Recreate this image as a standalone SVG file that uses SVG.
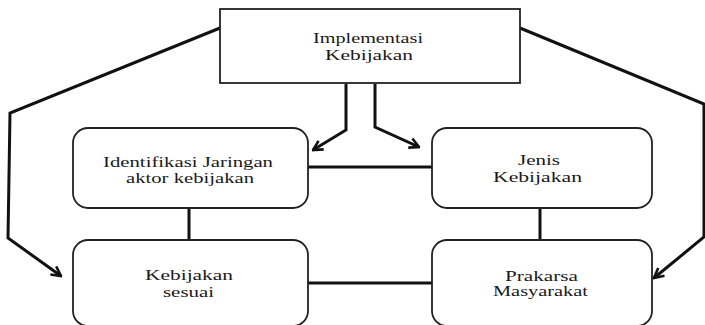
<svg xmlns="http://www.w3.org/2000/svg" width="705" height="325" viewBox="0 0 705 325">
  <style>
    .box { fill: #ffffff; stroke: #222222; stroke-width: 1.8; }
    .lbl { font-family: "Liberation Serif", "Times New Roman", serif; font-size: 14px; fill: #1a1a1a; text-anchor: middle; }
    .link { fill: none; stroke: #111111; stroke-width: 3; }
    .arrow { fill: none; stroke: #111111; stroke-width: 3; stroke-linejoin: miter; marker-end: url(#head); }
  </style>
  <defs>
    <marker id="head" viewBox="0 0 12 12" refX="10.5" refY="6" markerWidth="12" markerHeight="12" markerUnits="userSpaceOnUse" orient="auto">
      <path d="M1,1 L10.5,6 L1,11" fill="none" stroke="#111111" stroke-width="2.6"/>
    </marker>
  </defs>

  <rect width="705" height="325" fill="#ffffff"/>

  <!-- connectors -->
  <g id="connectors">
    <polyline class="arrow" points="346,84 346,130 313,150"/>
    <polyline class="arrow" points="375,84 375,127 419,147"/>
    <polyline class="arrow" points="220,28 10,113 8,238 61,276"/>
    <polyline class="arrow" points="520,28 704,104 704,237 654,278"/>
    <line class="link" x1="308" y1="167" x2="432" y2="167"/>
    <line class="link" x1="308" y1="283" x2="432" y2="283"/>
    <line class="link" x1="189" y1="208" x2="189" y2="240"/>
    <line class="link" x1="540" y1="208" x2="540" y2="240"/>
  </g>

  <!-- nodes -->
  <g id="implementasi">
    <rect class="box" x="220" y="9" width="300" height="74"/>
    <text class="lbl" x="368" y="43" textLength="110" lengthAdjust="spacingAndGlyphs">Implementasi</text>
    <text class="lbl" x="369" y="59.5" textLength="88" lengthAdjust="spacingAndGlyphs">Kebijakan</text>
  </g>

  <g id="identifikasi">
    <rect class="box" x="73" y="128" width="235" height="80" rx="15" ry="15"/>
    <text class="lbl" x="188" y="167" textLength="170" lengthAdjust="spacingAndGlyphs">Identifikasi Jaringan</text>
    <text class="lbl" x="190" y="183" textLength="128" lengthAdjust="spacingAndGlyphs">aktor kebijakan</text>
  </g>

  <g id="jenis">
    <rect class="box" x="432" y="128" width="220" height="80" rx="15" ry="15"/>
    <text class="lbl" x="539" y="165" textLength="42" lengthAdjust="spacingAndGlyphs">Jenis</text>
    <text class="lbl" x="537.5" y="182" textLength="89" lengthAdjust="spacingAndGlyphs">Kebijakan</text>
  </g>

  <g id="sesuai">
    <rect class="box" x="73" y="240" width="235" height="86" rx="15" ry="15"/>
    <text class="lbl" x="189" y="280" textLength="88" lengthAdjust="spacingAndGlyphs">Kebijakan</text>
    <text class="lbl" x="188.5" y="297" textLength="51" lengthAdjust="spacingAndGlyphs">sesuai</text>
  </g>

  <g id="prakarsa">
    <rect class="box" x="432" y="240" width="220" height="86" rx="15" ry="15"/>
    <text class="lbl" x="541.5" y="281" textLength="73" lengthAdjust="spacingAndGlyphs">Prakarsa</text>
    <text class="lbl" x="540.5" y="296" textLength="95" lengthAdjust="spacingAndGlyphs">Masyarakat</text>
  </g>
</svg>
